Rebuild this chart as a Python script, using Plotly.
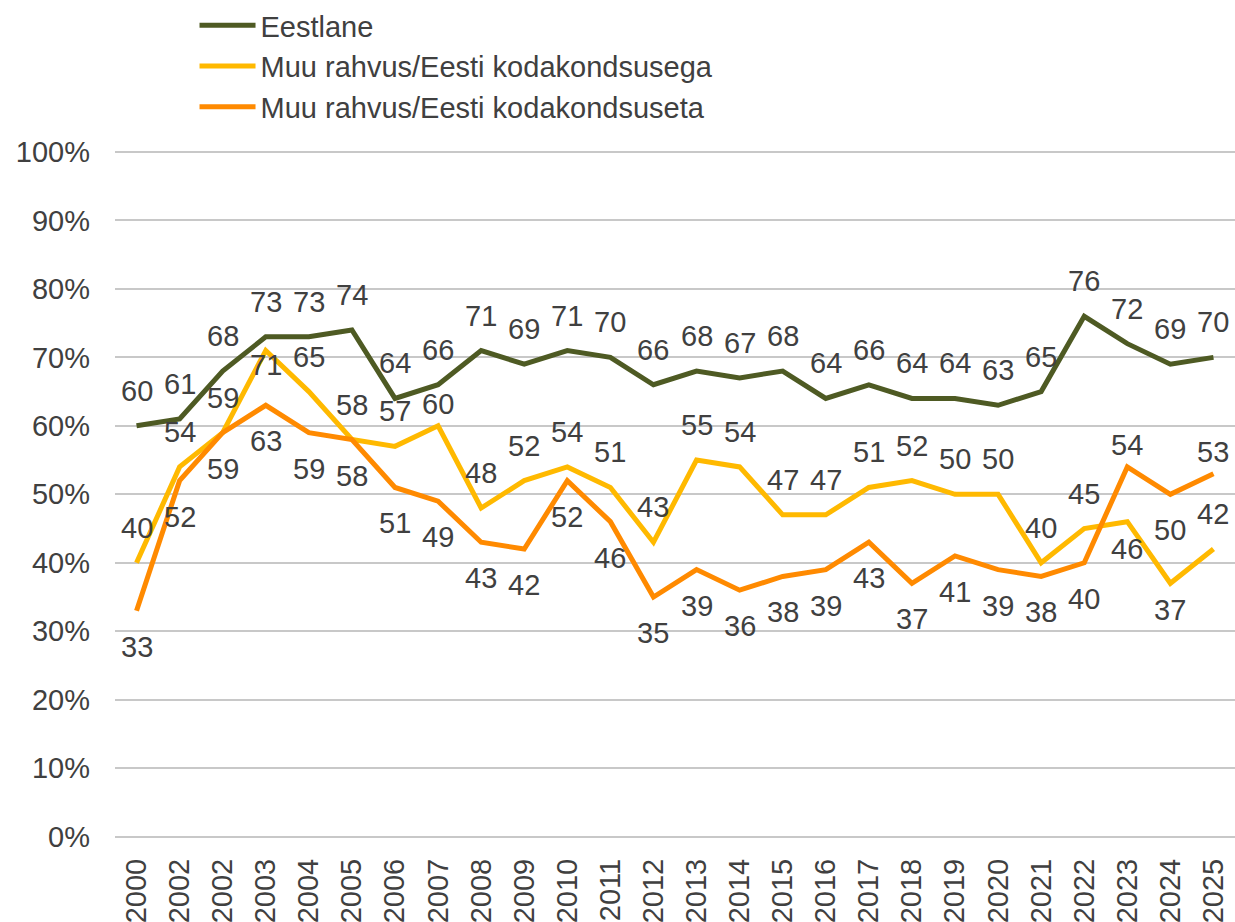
import plotly.graph_objects as go

years = ["2000", "2002", "2002", "2003", "2004", "2005", "2006", "2007", "2008", "2009",
         "2010", "2011", "2012", "2013", "2014", "2015", "2016", "2017", "2018", "2019",
         "2020", "2021", "2022", "2023", "2024", "2025"]

eestlane = [60, 61, 68, 73, 73, 74, 64, 66, 71, 69, 71, 70, 66, 68, 67, 68, 64, 66, 64, 64,
            63, 65, 76, 72, 69, 70]
muu_kodakondsusega = [40, 54, 59, 71, 65, 58, 57, 60, 48, 52, 54, 51, 43, 55, 54, 47, 47, 51,
                      52, 50, 50, 40, 45, 46, 37, 42]
muu_kodakondsuseta = [33, 52, 59, 63, 59, 58, 51, 49, 43, 42, 52, 46, 35, 39, 36, 38, 39, 43,
                      37, 41, 39, 38, 40, 54, 50, 53]

names = ["Eestlane", "Muu rahvus/Eesti kodakondsusega", "Muu rahvus/Eesti kodakondsuseta"]
colors = ["#4E5A23", "#FFB900", "#FF8A00"]

# label placement: t = above, s = slightly above, b = below, d = slightly below, c = near centre
label_pos = [
    ["t"] * 26,
    ["t", "t", "t", "c", "t", "t", "t", "s"] + ["t"] * 15 + ["d", "d", "t"],
    ["b"] * 23 + ["s", "b", "s"],
]
shift = {"t": 35, "s": 22, "b": -36, "d": -27, "c": -14}

FONT = "Liberation Sans, Arial, sans-serif"
TXT = "#404040"
FS = 29

x = list(range(len(years)))
fig = go.Figure()
series = [eestlane, muu_kodakondsusega, muu_kodakondsuseta]
for name, vals, col in zip(names, series, colors):
    fig.add_trace(go.Scatter(x=x, y=vals, name=name, mode="lines",
                             line=dict(color=col, width=5)))

annotations = []
for vals, pos in zip(series, label_pos):
    for xi, v, p in zip(x, vals, pos):
        annotations.append(dict(x=xi, y=v, text=str(v), showarrow=False,
                                yshift=shift[p], xref="x", yref="y",
                                font=dict(size=FS, color=TXT, family=FONT)))

fig.update_layout(
    width=1235, height=922,
    margin=dict(l=115, r=0, t=0, b=84),
    paper_bgcolor="white", plot_bgcolor="white",
    font=dict(family=FONT, size=FS, color=TXT),
    showlegend=True,
    legend=dict(x=0.071, y=1.0, xanchor="left", yanchor="top",
                font=dict(size=FS, color=TXT, family=FONT),
                bgcolor="rgba(0,0,0,0)", tracegroupgap=0, itemwidth=56),
    annotations=annotations,
)
fig.update_xaxes(range=[-0.5, len(years) - 0.5], tickmode="array", tickvals=x,
                 ticktext=years, tickangle=-90, showgrid=False, zeroline=False,
                 showline=False, ticks="", ticklabelstandoff=14, automargin=False,
                 tickfont=dict(size=FS, color=TXT, family=FONT))
fig.update_yaxes(range=[-0.2, 100.2], domain=[0, 0.8203],
                 tickvals=list(range(0, 101, 10)),
                 ticktext=[f"{v}%" for v in range(0, 101, 10)],
                 showgrid=True, gridcolor="#C8C8C8", gridwidth=1.5, zeroline=False,
                 showline=False, ticks="", ticklabelstandoff=24, automargin=False,
                 tickfont=dict(size=FS, color=TXT, family=FONT))

fig.write_html("out.html", config={"displayModeBar": False},
               post_script="document.body.style.margin='0';")
